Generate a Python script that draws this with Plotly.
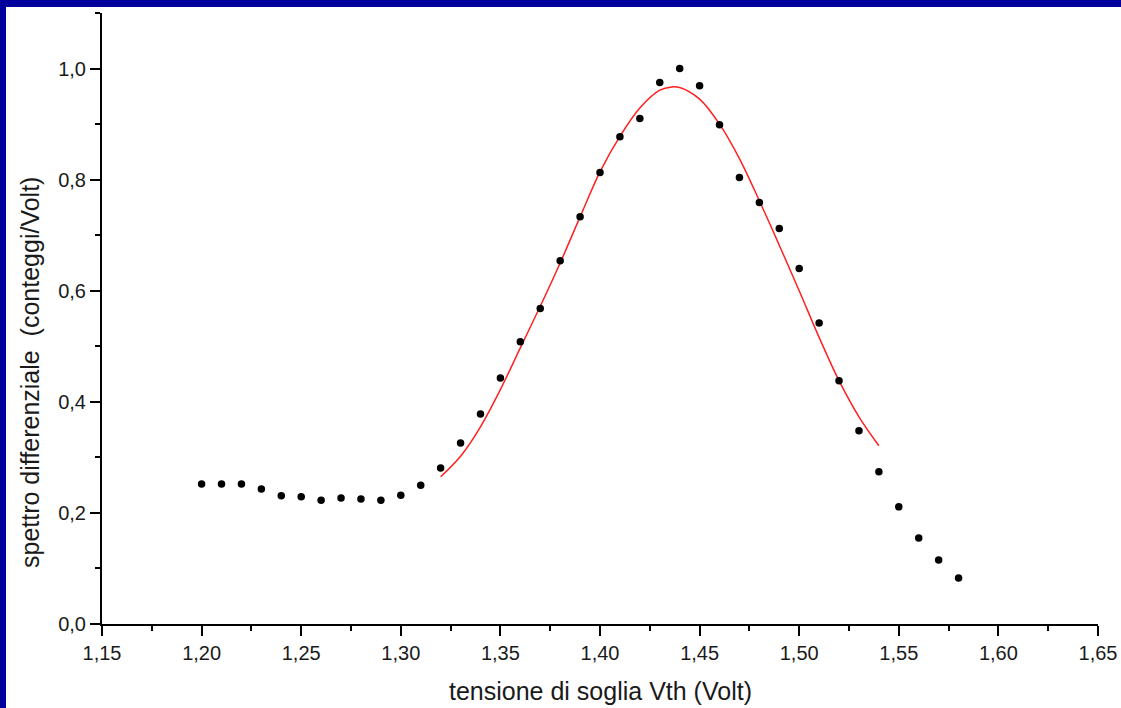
import plotly.graph_objects as go

# measured data points
x_data = [1.20, 1.21, 1.22, 1.23, 1.24, 1.25, 1.26, 1.27, 1.28, 1.29,
          1.30, 1.31, 1.32, 1.33, 1.34, 1.35, 1.36, 1.37, 1.38, 1.39,
          1.40, 1.41, 1.42, 1.43, 1.44, 1.45, 1.46, 1.47, 1.48, 1.49,
          1.50, 1.51, 1.52, 1.53, 1.54, 1.55, 1.56, 1.57, 1.58]
y_data = [0.252, 0.252, 0.252, 0.243, 0.231, 0.229, 0.223, 0.227, 0.225, 0.223,
          0.232, 0.250, 0.281, 0.326, 0.378, 0.443, 0.508, 0.568, 0.654, 0.733,
          0.813, 0.877, 0.910, 0.975, 1.000, 0.969, 0.899, 0.804, 0.759, 0.712,
          0.640, 0.542, 0.438, 0.348, 0.274, 0.211, 0.155, 0.115, 0.083]

# fitted curve
x_fit = [1.32, 1.33, 1.34, 1.35, 1.36, 1.37, 1.38, 1.39, 1.40, 1.41, 1.42,
         1.43, 1.436, 1.44, 1.45, 1.46, 1.47, 1.48, 1.49, 1.50, 1.51, 1.52, 1.53, 1.54]
y_fit = [0.265, 0.302, 0.355, 0.422, 0.497, 0.572, 0.650, 0.733, 0.814, 0.878, 0.929,
         0.961, 0.967, 0.966, 0.945, 0.900, 0.838, 0.762, 0.682, 0.600, 0.516, 0.438, 0.373, 0.321]

x_ticks = [1.15, 1.20, 1.25, 1.30, 1.35, 1.40, 1.45, 1.50, 1.55, 1.60, 1.65]
y_ticks = [0.0, 0.2, 0.4, 0.6, 0.8, 1.0]

x_title = "tensione di soglia Vth (Volt)"
y_title = "spettro differenziale\u00a0\u00a0(conteggi/Volt)"

FONT = "Liberation Sans, Arial, sans-serif"
TXT = "#1a1a1a"
BLUE = "#00009c"

fig = go.Figure()
fig.add_trace(go.Scatter(x=x_fit, y=y_fit, mode="lines",
                         line=dict(color="#ff2020", width=1.5, shape="spline"),
                         showlegend=False, hoverinfo="skip"))
fig.add_trace(go.Scatter(x=x_data, y=y_data, mode="markers",
                         marker=dict(color="black", size=7.5),
                         showlegend=False))

axis_common = dict(showline=True, linecolor="black", linewidth=2,
                   ticks="outside", ticklen=10, tickwidth=2, tickcolor="black",
                   showgrid=False, zeroline=False, mirror=False, automargin=False,
                   tickfont=dict(family=FONT, size=20, color=TXT))

fig.update_xaxes(range=[1.15, 1.65], tickvals=x_ticks, tickformat=".2f",
                 minor=dict(ticks="outside", ticklen=5, tickwidth=2, tickcolor="black",
                            dtick=0.025, tick0=1.15, showgrid=False),
                 **axis_common)
fig.update_yaxes(range=[0, 1.1], tickvals=y_ticks, tickformat=".1f",
                 minor=dict(ticks="outside", ticklen=5, tickwidth=2, tickcolor="black",
                            dtick=0.1, tick0=0, showgrid=False),
                 **axis_common)

W, H = 1121, 708
L, R, T, B = 102, 23, 13, 84
pw, ph = W - L - R, H - T - B

def px_to_paper_x(px):
    return (px - L) / pw

def px_to_paper_y(py):
    return (H - B - py) / ph

fig.add_annotation(text=x_title, xref="paper", yref="paper",
                   x=px_to_paper_x(600), y=px_to_paper_y(691),
                   xanchor="center", yanchor="middle", showarrow=False,
                   font=dict(family=FONT, size=25, color=TXT))
fig.add_annotation(text=y_title, xref="paper", yref="paper",
                   x=px_to_paper_x(30), y=px_to_paper_y(373), textangle=-90,
                   xanchor="center", yanchor="middle", showarrow=False,
                   font=dict(family=FONT, size=25, color=TXT))

fig.add_shape(type="rect", xref="paper", yref="paper",
              x0=px_to_paper_x(-5), x1=px_to_paper_x(6),
              y0=px_to_paper_y(H + 5), y1=px_to_paper_y(-5),
              fillcolor=BLUE, line_width=0, layer="above")
fig.add_shape(type="rect", xref="paper", yref="paper",
              x0=px_to_paper_x(-5), x1=px_to_paper_x(W + 5),
              y0=px_to_paper_y(7), y1=px_to_paper_y(-5),
              fillcolor=BLUE, line_width=0, layer="above")

fig.update_layout(separators=",.",
                  margin=dict(l=L, r=R, t=T, b=B),
                  paper_bgcolor="white", plot_bgcolor="white",
                  font=dict(family=FONT))

fig.write_html("out.html")
